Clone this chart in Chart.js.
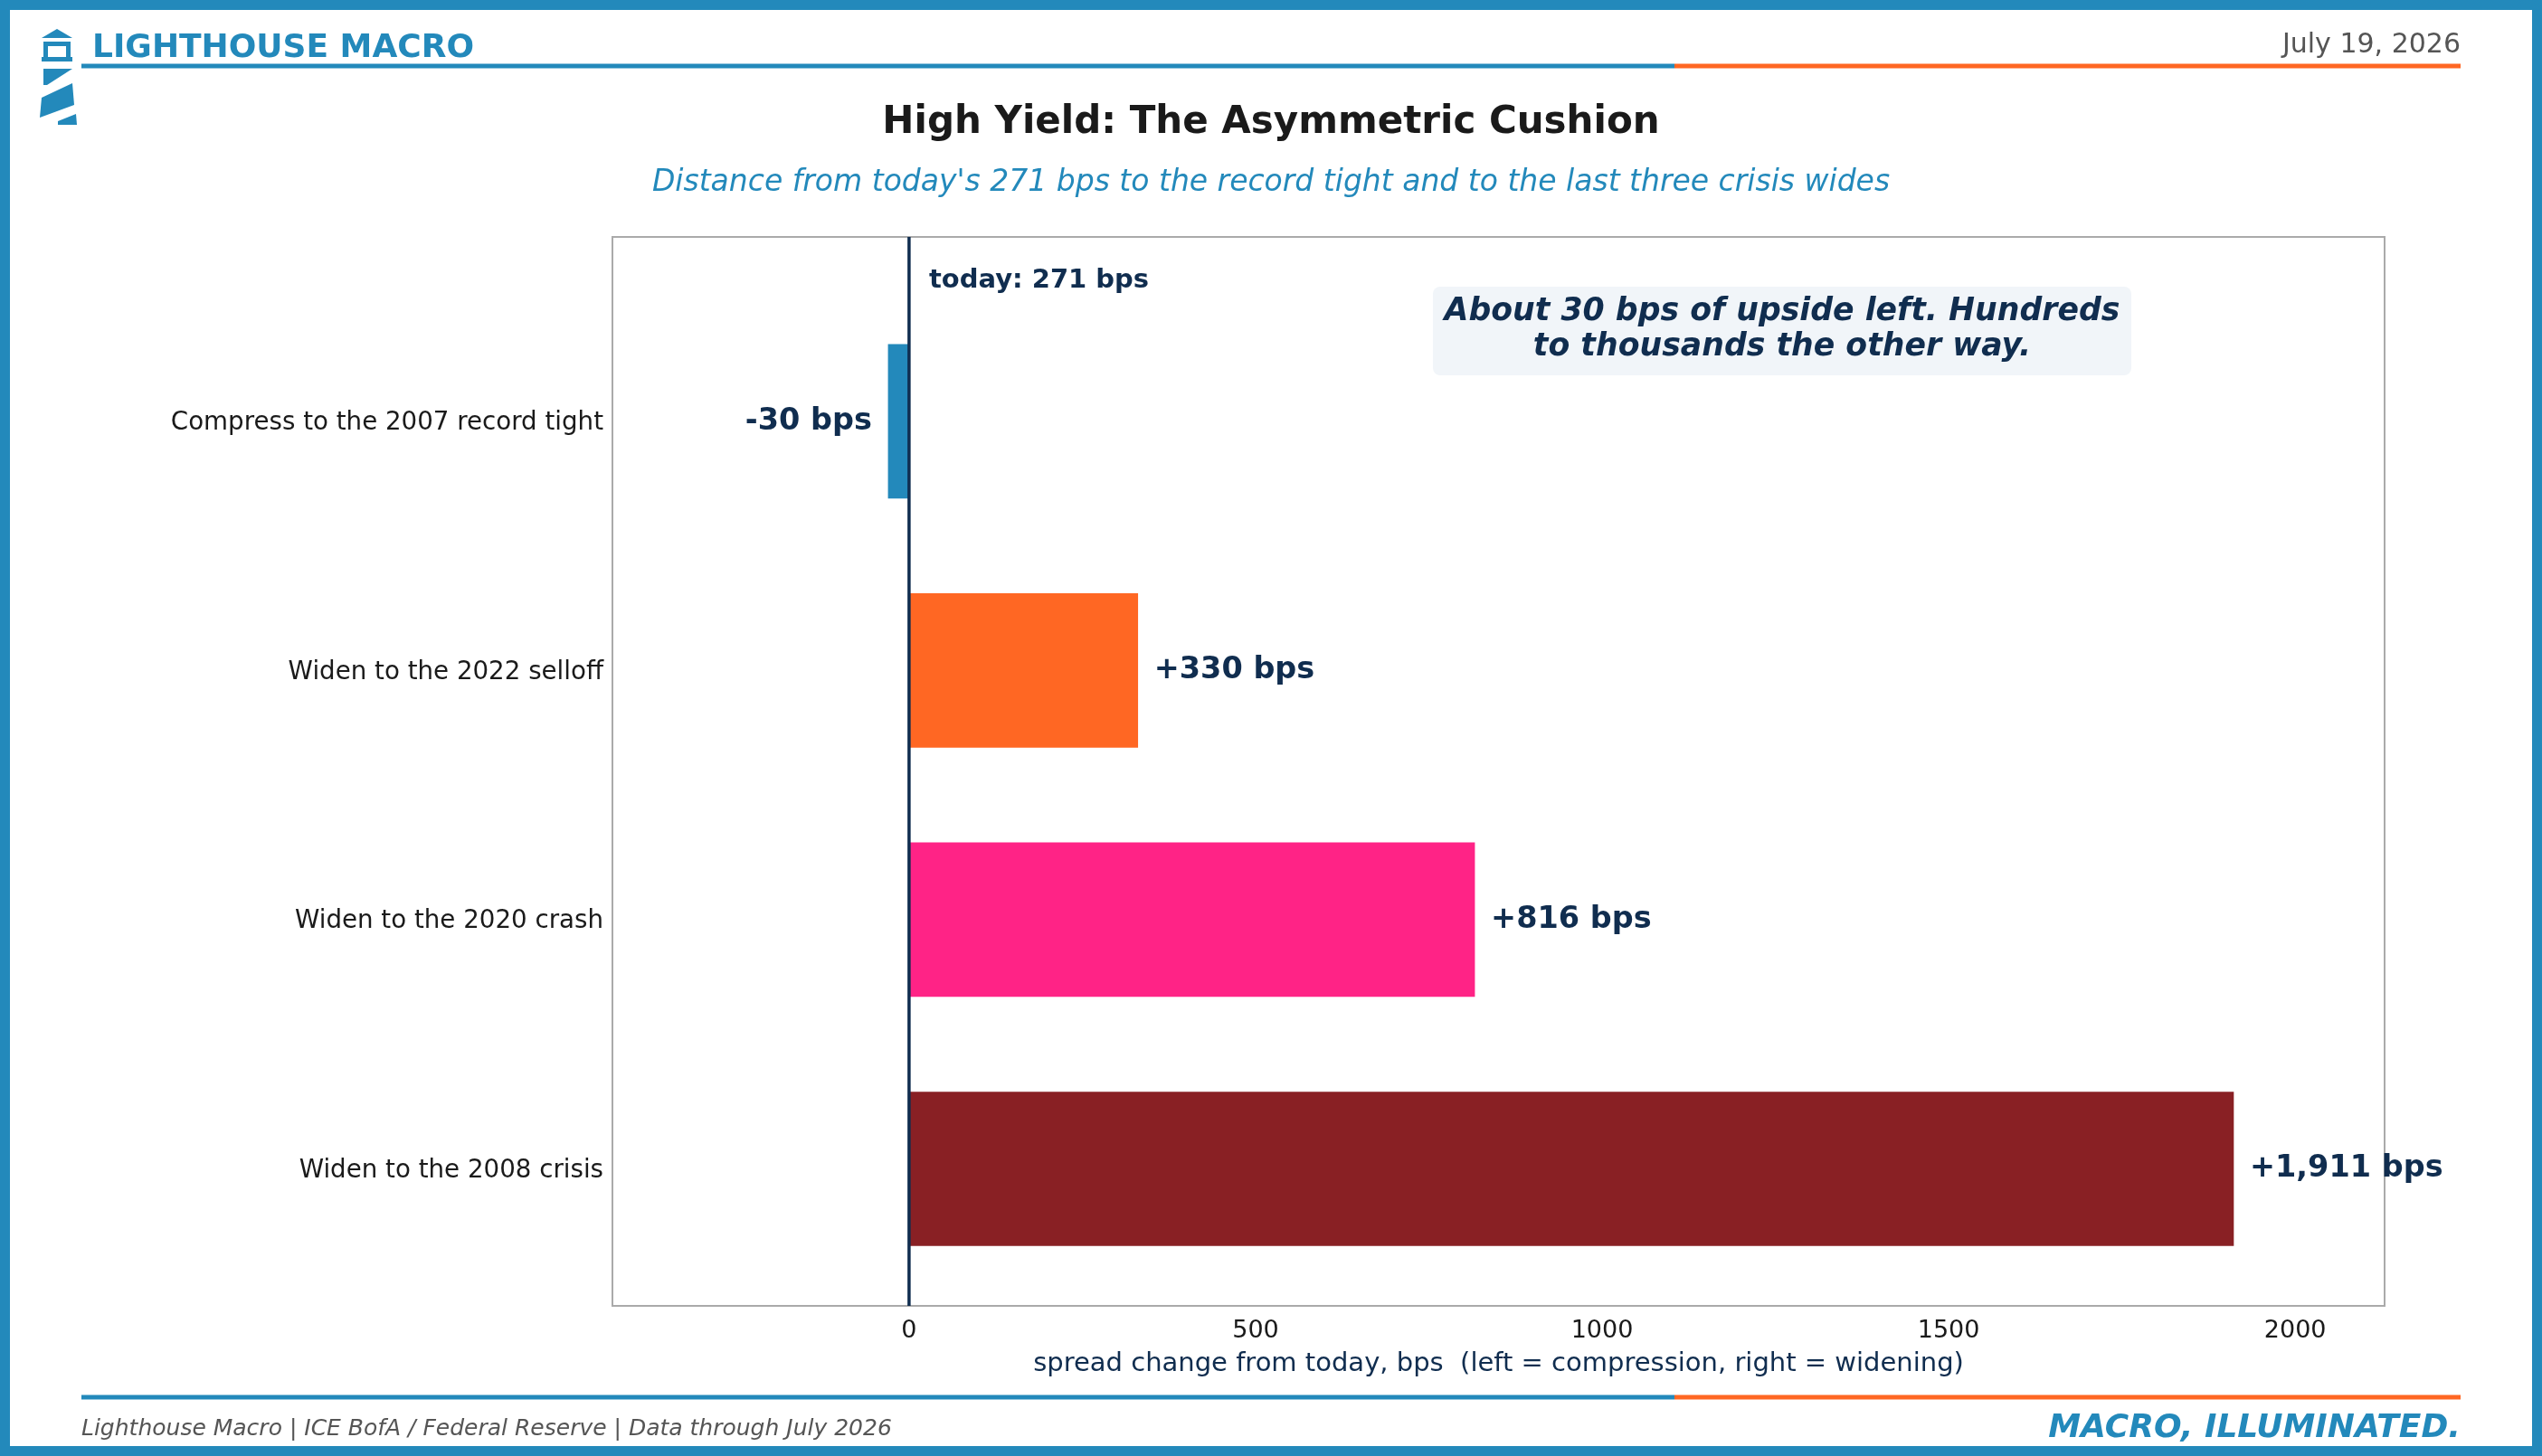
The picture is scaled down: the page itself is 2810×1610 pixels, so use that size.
<!DOCTYPE html>
<html>
<head>
<meta charset="utf-8">
<script src="https://cdn.jsdelivr.net/npm/chart.js@4"></script>
<style>
  html, body { margin: 0; padding: 0; background: #fff; }
  #wrap { width: 2810px; height: 1610px; }
</style>
</head>
<body>
<div id="wrap"><canvas id="c" width="2810" height="1610"></canvas></div>
<script>
const categories = ['Compress to the 2007 record tight', 'Widen to the 2022 selloff', 'Widen to the 2020 crash', 'Widen to the 2008 crisis'];
const changes = [-30, 330, 816, 1911];
const valueLabels = ['-30 bps', '+330 bps', '+816 bps', '+1,911 bps'];
const barColors = ['#2389BB', '#FF6723', '#FF2386', '#892024'];
const xTicks = [0, 500, 1000, 1500, 2000];

const BLUE = '#2389BB', ORANGE = '#FF6723', NAVY = '#102D4F';
const FONT = '"DejaVu Sans", sans-serif';

const decor = {
    id: 'decor',
    beforeDraw(chart) {
        const c = chart.ctx;
        c.save();
        c.fillStyle = '#fff';
        c.fillRect(0, 0, 2810, 1610);
        // frame
        c.strokeStyle = BLUE; c.lineWidth = 11;
        c.strokeRect(5.5, 5.5, 2799, 1599);
        // header / footer rules
        c.lineWidth = 5;
        [73, 1545].forEach(y => {
            c.strokeStyle = BLUE; c.beginPath(); c.moveTo(90, y); c.lineTo(1851, y); c.stroke();
            c.strokeStyle = ORANGE; c.beginPath(); c.moveTo(1851, y); c.lineTo(2720, y); c.stroke();
        });
        // lighthouse logo
        c.fillStyle = BLUE;
        c.beginPath(); c.moveTo(46, 42); c.lineTo(63, 32); c.lineTo(80, 42); c.closePath(); c.fill();
        c.fillRect(48, 46, 30, 5); c.fillRect(48, 51, 5, 14); c.fillRect(73, 51, 5, 14); c.fillRect(46, 63, 34, 5);
        c.beginPath(); c.moveTo(48, 76); c.lineTo(80, 76); c.lineTo(52, 94); c.lineTo(48, 94); c.closePath(); c.fill();
        c.beginPath(); c.moveTo(46, 108); c.lineTo(80, 92); c.lineTo(82, 116); c.lineTo(44, 130); c.closePath(); c.fill();
        c.beginPath(); c.moveTo(64, 134); c.lineTo(84, 126); c.lineTo(85, 138); c.lineTo(64, 138); c.closePath(); c.fill();
        // header text
        c.textBaseline = 'middle';
        c.font = 'bold 36px ' + FONT; c.textAlign = 'left';
        c.fillText('LIGHTHOUSE MACRO', 102, 54);
        c.fillStyle = '#555'; c.font = '30px ' + FONT; c.textAlign = 'right';
        c.fillText('July 19, 2026', 2720, 50);
        c.textAlign = 'center';
        c.fillStyle = '#1a1a1a'; c.font = 'bold 42px ' + FONT;
        c.fillText('High Yield: The Asymmetric Cushion', 1405, 136);
        c.fillStyle = BLUE; c.font = 'italic 33px ' + FONT;
        c.fillText("Distance from today's 271 bps to the record tight and to the last three crisis wides", 1405, 202);
        // footer
        c.textAlign = 'left'; c.fillStyle = '#555'; c.font = 'italic 25px ' + FONT;
        c.fillText('Lighthouse Macro | ICE BofA / Federal Reserve | Data through July 2026', 90, 1580);
        c.textAlign = 'right'; c.fillStyle = BLUE; c.font = 'bold italic 36px ' + FONT;
        c.fillText('MACRO, ILLUMINATED.', 2720, 1580);
        c.restore();
    },
    afterDatasetsDraw(chart) {
        const c = chart.ctx, a = chart.chartArea;
        const xs = chart.scales.x, ys = chart.scales.y;
        c.save();
        // plot border
        c.strokeStyle = '#aaa'; c.lineWidth = 2;
        c.strokeRect(a.left, a.top, a.right - a.left, a.bottom - a.top);
        // zero line
        const x0 = xs.getPixelForValue(0);
        c.strokeStyle = NAVY; c.lineWidth = 3.5;
        c.beginPath(); c.moveTo(x0, a.top); c.lineTo(x0, a.bottom); c.stroke();
        c.textBaseline = 'middle';
        c.fillStyle = NAVY; c.font = 'bold 29px ' + FONT; c.textAlign = 'left';
        c.fillText('today: 271 bps', x0 + 22, 310);
        // category labels and value labels
        categories.forEach((cat, i) => {
            const y = ys.getPixelForValue(i);
            c.fillStyle = '#1a1a1a'; c.font = '27.7px ' + FONT; c.textAlign = 'right';
            c.fillText(cat, a.left - 10, y + 2);
            const xv = xs.getPixelForValue(changes[i]);
            c.fillStyle = NAVY; c.font = 'bold 33.5px ' + FONT;
            if (changes[i] < 0) { c.textAlign = 'right'; c.fillText(valueLabels[i], xv - 18, y); }
            else { c.textAlign = 'left'; c.fillText(valueLabels[i], xv + 18, y); }
        });
        // annotation box
        c.fillStyle = '#F1F5F9';
        c.beginPath(); c.roundRect(1584, 317, 772, 98, 8); c.fill();
        c.fillStyle = NAVY; c.font = 'bold italic 34.7px ' + FONT; c.textAlign = 'center';
        c.fillText('About 30 bps of upside left. Hundreds', 1970, 345);
        c.fillText('to thousands the other way.', 1970, 384);
        c.restore();
    }
};

new Chart(document.getElementById('c'), {
    type: 'bar',
    data: {
        datasets: [{
            data: changes.map((v, i) => ({ x: v, y: i })),
            backgroundColor: barColors,
            barThickness: 170,
            borderWidth: 0
        }]
    },
    options: {
        indexAxis: 'y',
        responsive: false,
        animation: false,
        layout: { padding: { left: 677, right: 174, top: 262, bottom: 80 } },
        plugins: { legend: { display: false }, tooltip: { enabled: false } },
        scales: {
            x: {
                type: 'linear', min: -428, max: 2129,
                afterBuildTicks: s => { s.ticks = xTicks.map(v => ({ value: v })); },
                afterFit: s => { s.height = 86; },
                grid: { display: false, drawTicks: true, tickLength: 8, tickColor: '#333' },
                border: { display: false },
                ticks: { color: '#1a1a1a', font: { size: 27, family: FONT }, padding: 4,
                         callback: v => String(v) },
                title: { display: true, text: 'spread change from today, bps  (left = compression, right = widening)',
                         color: NAVY, font: { size: 29, family: FONT }, padding: { top: 0 } }
            },
            y: {
                type: 'linear', reverse: true, min: -0.74, max: 3.55, offset: false,
                display: false
            }
        }
    },
    plugins: [decor]
});
</script>
</body>
</html>
